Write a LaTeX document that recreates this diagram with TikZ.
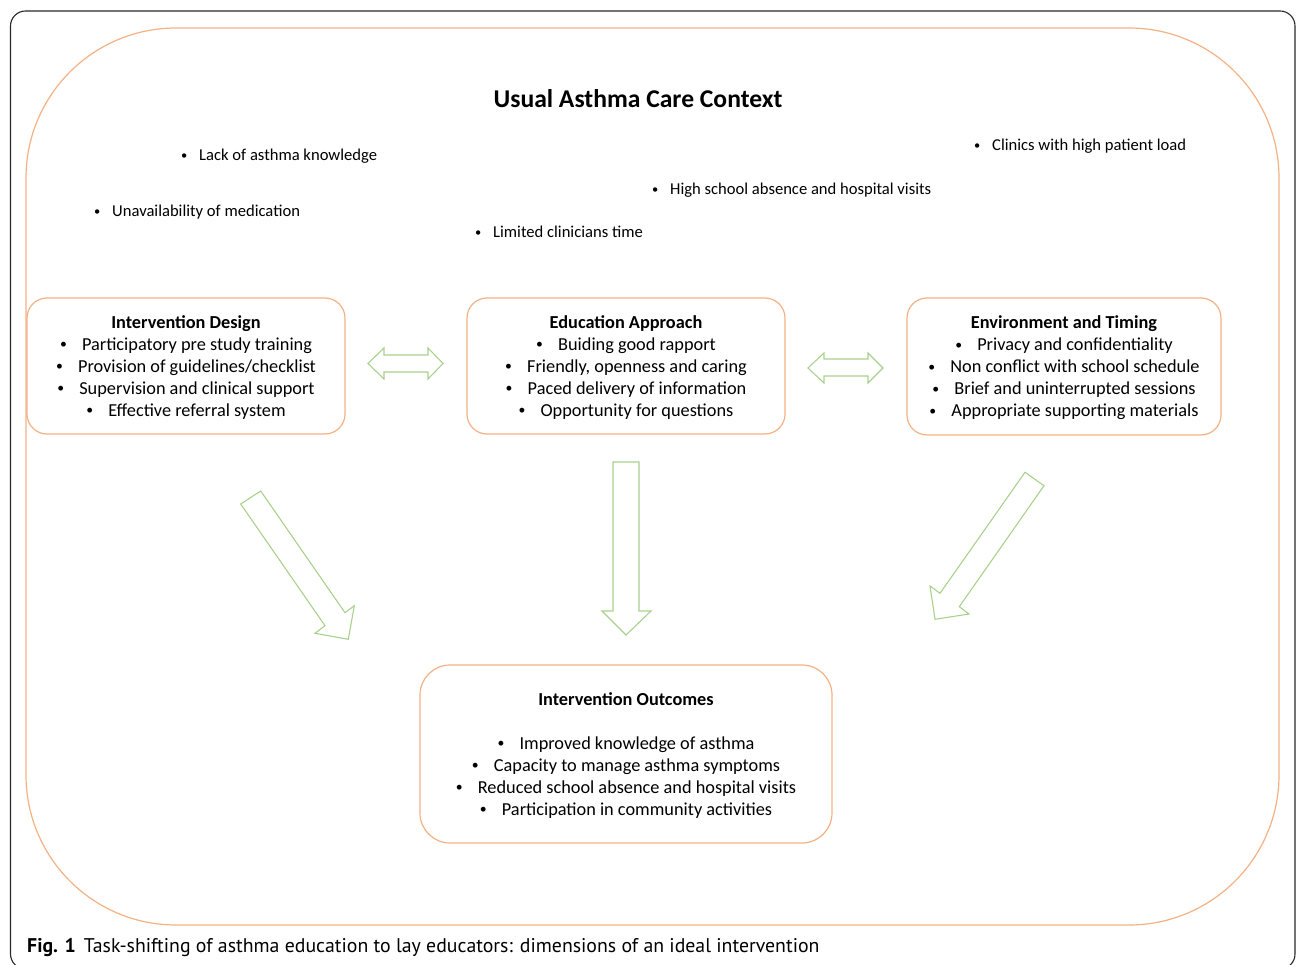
\documentclass[tikz,border=0pt]{standalone}
\usepackage{fontspec}
\setmainfont{Carlito}
\newfontfamily\capfont{PT Sans}
\definecolor{frameor}{RGB}{244,177,131}
\definecolor{argreen}{RGB}{169,209,142}
\definecolor{framegray}{RGB}{40,40,40}
\newcommand\smallbullet{\raisebox{0.08em}{\scalebox{0.75}{\textbullet}}}
\newcommand\bl[1]{\makebox[22pt][l]{\smallbullet}#1}
\newcommand\fb[1]{\makebox[18pt][l]{\smallbullet}#1}
\newcommand\boxtext[1]{\raisebox{-2pt}[\height][\depth]{\begin{tabular}{@{}c@{}}#1\end{tabular}}}
\begin{document}
\begin{tikzpicture}[x=1pt,y=-1pt,
  box/.style={draw=frameor, line width=1.2pt, rounded corners=20pt, align=center, inner sep=0pt,
    font=\fontsize{18.3}{22}\selectfont},
  blockarrow/.style={draw=argreen, line width=1.1pt, line join=miter},
  floatbullet/.style={anchor=base west, inner sep=0pt, font=\fontsize{16.6}{18}\selectfont},
]
\useasboundingbox (0,0) rectangle (1296,965);
% outer frame
\draw[framegray, line width=1.1pt, rounded corners=15pt] (10.5,11) rectangle (1295,969);
% context border
\draw[frameor, line width=1.2pt, rounded corners=150pt] (26,28) rectangle (1279,925);
\node[font=\fontsize{25.6}{28}\selectfont\bfseries, inner sep=0pt] (title) at (638,99) {Usual Asthma Care Context};
% context factors
\node[floatbullet] (f1) at (181,161) {\fb{Lack of asthma knowledge}};
\node[floatbullet] (f2) at (94,217) {\fb{Unavailability of medication}};
\node[floatbullet] (f3) at (652,195) {\fb{High school absence and hospital visits}};
\node[floatbullet] (f4) at (475,238) {\fb{Limited clinicians time}};
\node[floatbullet] (f5) at (974,151) {\fb{Clinics with high patient load}};
% boxes
\node[box, minimum width=318pt, minimum height=136pt] (design) at (186,366) {\boxtext{\textbf{Intervention Design}\\
  \bl{Participatory pre study training}\\
  \bl{Provision of guidelines/checklist}\\
  \bl{Supervision and clinical support}\\
  \bl{Effective referral system}}};
\node[box, minimum width=318pt, minimum height=136pt] (approach) at (626,366) {\boxtext{\textbf{Education Approach}\\
  \bl{Buiding good rapport}\\
  \bl{Friendly, openness and caring}\\
  \bl{Paced delivery of information}\\
  \bl{Opportunity for questions}}};
\node[box, minimum width=314pt, minimum height=137pt] (env) at (1064,366.5) {\boxtext{\textbf{Environment and Timing}\\
  \bl{Privacy and confidentiality}\\
  \bl{Non conflict with school schedule}\\
  \bl{Brief and uninterrupted sessions}\\
  \bl{Appropriate supporting materials}}};
\node[box, rounded corners=30pt, minimum width=412pt, minimum height=178pt] (outcomes) at (626,754) {\boxtext{\textbf{Intervention Outcomes}\\[22pt]
  \bl{Improved knowledge of asthma}\\
  \bl{Capacity to manage asthma symptoms}\\
  \bl{Reduced school absence and hospital visits}\\
  \bl{Participation in community activities}}};
% double arrows
\draw[blockarrow] (368,363.5) -- (384,348) -- (384,355) -- (428,355) -- (428,348) -- (443,363.5)
  -- (428,379) -- (428,372) -- (384,372) -- (384,379) -- cycle;
\draw[blockarrow] (808,368) -- (824,353) -- (824,359) -- (868,359) -- (868,353) -- (883,368)
  -- (868,383) -- (868,376) -- (824,376) -- (824,383) -- cycle;
% down arrow
\draw[blockarrow] (613,462) -- (639,462) -- (639,611) -- (651,611) -- (626,635) -- (602,611) -- (613,611) -- cycle;
% left diagonal arrow
\draw[blockarrow] (240.7,504) -- (260.7,491) -- (345,612.7) -- (354.3,605.7) -- (348.3,639.3)
  -- (315,633.3) -- (325,625.7) -- cycle;
% right diagonal arrow
\draw[blockarrow] (1025,472.3) -- (1044,485.7) -- (959.3,606.7) -- (969,614) -- (935,619.3)
  -- (930,586) -- (940,593.3) -- cycle;
% caption
\node[anchor=base west, inner sep=0pt, font=\capfont\fontsize{19.8}{22}\selectfont] (caption) at (27,952)
  {\textbf{Fig. 1}\hspace{8pt}Task-shifting of asthma education to lay educators: dimensions of an ideal intervention};
\end{tikzpicture}
\end{document}
